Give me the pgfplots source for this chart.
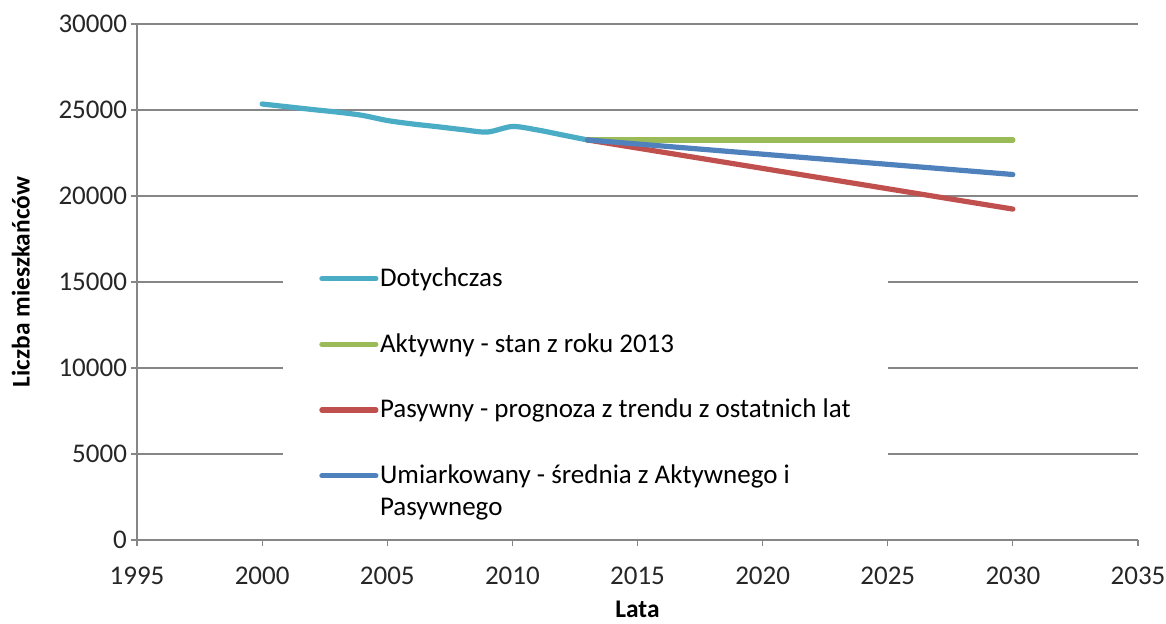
\documentclass[border=0pt]{standalone}
\usepackage{fontspec}
\setmainfont{Carlito}
\usepackage{pgfplots}
\pgfplotsset{compat=1.18}
\definecolor{cDot}{HTML}{4BACC6}
\definecolor{cAkt}{HTML}{9BBB59}
\definecolor{cPas}{HTML}{C0504D}
\definecolor{cUmi}{HTML}{4F81BD}
\definecolor{cGrid}{HTML}{868686}
\begin{document}
\begin{tikzpicture}
\useasboundingbox (-68.5pt,-41.5pt) rectangle (514.5pt,270pt);
\begin{axis}[
  at={(0,0)}, anchor=south west,
  scale only axis, width=500.5pt, height=258pt,
  xmin=1995, xmax=2035, ymin=0, ymax=30000,
  xtick={1995,2000,...,2035}, ytick={0,5000,...,30000},
  axis x line*=bottom, axis y line*=left,
  axis line style={draw=cGrid, line width=0.6pt, -},
  tick align=outside, major tick length=3pt,
  tick style={draw=cGrid, line width=0.6pt},
  ymajorgrids, grid style={draw=cGrid, line width=0.6pt},
  scaled ticks=false,
  /pgf/number format/.cd, 1000 sep={}, assume math mode=true, /pgfplots/.cd,
  tick label style={font=\fontsize{13.5}{15}\selectfont, text=black!85},
  xticklabel style={yshift=-7pt},
  yticklabel style={xshift=1.5pt},
  xlabel={\textbf{Lata}}, ylabel={\textbf{Liczba mieszkańców}},
  label style={font=\fontsize{12.7}{14}\selectfont},
  xlabel style={inner sep=0pt},
  xlabel shift=4.8pt, ylabel shift=7.5pt,
  legend cell align=left,
  legend style={at={(axis cs:2000.83,17250)}, anchor=north west, draw=none, fill=white,
    inner xsep=18pt, inner ysep=10pt, row sep=18pt,
    font=\fontsize{13.5}{16}\selectfont,
    cells={anchor=west, align=left},
    nodes={inner xsep=0.8pt}},
  legend image code/.code={\draw[#1, line cap=round] (0pt,0pt) -- (27pt,0pt);},
]
\addplot[cDot, line width=2.6pt, smooth, tension=0.5, line cap=round] coordinates {
(2000,25350) (2001,25190) (2002,25030) (2003,24880) (2004,24690) (2005,24390)
(2006,24190) (2007,24030) (2008,23860) (2009,23720) (2010,24040) (2011,23840)
(2012,23550) (2013,23260)};
\addlegendentry{Dotychczas}
\addplot[cAkt, line width=2.6pt, line cap=round] coordinates {(2013,23260) (2030,23260)};
\addlegendentry{Aktywny - stan z roku 2013}
\addplot[cPas, line width=2.6pt, line cap=round] coordinates {(2013,23260) (2030,19240)};
\addlegendentry{Pasywny - prognoza z trendu z ostatnich lat}
\addplot[cUmi, line width=2.6pt, line cap=round] coordinates {(2013,23260) (2030,21250)};
\addlegendentry{\smash{\vtop{\baselineskip=16pt\hbox{Umiarkowany - średnia z Aktywnego i}\hbox{Pasywnego}}}\vphantom{Umiarkowany}}
\end{axis}
\end{tikzpicture}
\end{document}
